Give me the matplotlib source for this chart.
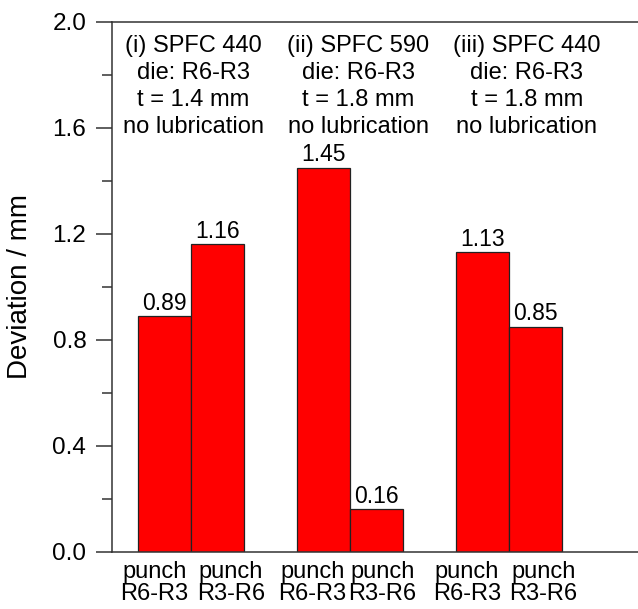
import numpy as np
import matplotlib.pyplot as plt
from matplotlib.ticker import MultipleLocator, FormatStrFormatter

plt.rcParams['font.family'] = ['Liberation Sans', 'DejaVu Sans']

# dados
groups = ['(i) SPFC 440\ndie: R6-R3\nt = 1.4 mm\nno lubrication',
          '(ii) SPFC 590\ndie: R6-R3\nt = 1.8 mm\nno lubrication',
          '(iii) SPFC 440\ndie: R6-R3\nt = 1.8 mm\nno lubrication']
punch_labels = ['punch\nR6-R3', 'punch\nR3-R6'] * 3
deviation = [0.89, 1.16, 1.45, 0.16, 1.13, 0.85]

pos = np.array([0, 1, 3, 4, 6, 7])
# deslocamento dos rótulos do eixo x (como no original)
label_shift = np.array([-0.19, 0.25, -0.21, 0.11, -0.30, 0.15])
text_shift = [0.04, 0.16, 0.33]

fig = plt.figure(figsize=(6.38, 6.09), dpi=100)
ax = fig.add_axes([0.1755, 0.0941, 0.8245, 0.8698])

bars = ax.bar(pos, deviation, width=1.0, color='#ff0000', edgecolor='#222222', linewidth=0.9)

for b, v in zip(bars, deviation):
    ax.annotate(f'{v:.2f}', (b.get_x() + b.get_width() / 2, v), xytext=(0, 4.5),
                textcoords='offset points', ha='center', va='baseline', fontsize=16.5)

# textos dos grupos
for i, txt in enumerate(groups):
    cx = (pos[2 * i] + pos[2 * i + 1]) / 2 + text_shift[i]
    ax.text(cx, 1.95, txt, ha='center', va='top', fontsize=17, linespacing=1.29)

ax.set_xlim(-0.99, 8.93)
ax.set_ylim(0, 2.0)
ax.set_xticks(pos + label_shift)
ax.set_xticklabels(punch_labels, fontsize=17, linespacing=1.0)
ax.tick_params(axis='x', length=0, pad=6.5)

ax.yaxis.set_major_locator(MultipleLocator(0.4))
ax.yaxis.set_minor_locator(MultipleLocator(0.2))
ax.yaxis.set_major_formatter(FormatStrFormatter('%.1f'))
ax.tick_params(axis='y', which='major', direction='out', length=11.5, width=1.1,
               labelsize=17.5, color='#333333', pad=7)
ax.tick_params(axis='y', which='minor', direction='out', length=7, width=1.1, color='#333333')
ax.set_ylabel('Deviation / mm', fontsize=20, labelpad=14)

ax.spines['right'].set_visible(False)
for s in ['left', 'top', 'bottom']:
    ax.spines[s].set_color('#333333')
    ax.spines[s].set_linewidth(1.1)

fig.savefig('out.png', dpi=100)
